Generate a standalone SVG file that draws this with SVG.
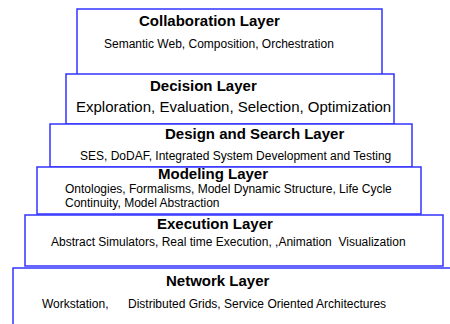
<svg xmlns="http://www.w3.org/2000/svg" width="450" height="324" viewBox="0 0 450 324">
<style>
.box{fill:#ffffff;stroke:#3333ff;stroke-width:1.5}
.t{font-family:"Liberation Sans",Arial,sans-serif;font-weight:bold;font-size:15px;fill:#000}
.s{font-family:"Liberation Sans",Arial,sans-serif;font-size:12px;fill:#000}
.m{font-family:"Liberation Sans",Arial,sans-serif;font-size:15px;fill:#000}
</style>
<rect width="450" height="324" fill="#ffffff"/>
<g id="collaboration">
<rect class="box" x="77" y="9" width="305" height="66"/>
<text class="t" x="139" y="25.5">Collaboration Layer</text>
<text class="s" x="104" y="48">Semantic Web, Composition, Orchestration</text>
</g>
<g id="decision">
<rect class="box" x="66" y="74" width="328" height="50"/>
<text class="t" x="150" y="91">Decision Layer</text>
<text class="m" x="76" y="112">Exploration, Evaluation, Selection, Optimization</text>
</g>
<g id="design">
<rect class="box" x="50" y="124" width="362" height="43"/>
<text class="t" x="165" y="139">Design and Search Layer</text>
<text class="s" x="80" y="160">SES, DoDAF, Integrated System Development and Testing</text>
</g>
<g id="modeling">
<rect class="box" x="37" y="167" width="384" height="47"/>
<text class="t" x="158" y="179">Modeling Layer</text>
<text class="s" x="65" y="193.2">Ontologies, Formalisms, Model Dynamic Structure, Life Cycle</text>
<text class="s" x="65" y="206.8">Continuity, Model Abstraction</text>
</g>
<g id="execution">
<rect class="box" x="25" y="215" width="418" height="51"/>
<text class="t" x="157" y="229">Execution Layer</text>
<text class="s" x="51" y="246" xml:space="preserve">Abstract Simulators, Real time Execution, ,Animation  Visualization</text>
</g>
<g id="network">
<rect class="box" x="13" y="268" width="450" height="70"/>
<text class="t" x="166" y="286">Network Layer</text>
<text class="s" y="308"><tspan x="42">Workstation,</tspan><tspan x="128">Distributed Grids, Service Oriented Architectures</tspan></text>
</g>
<g id="connectors"/>
</svg>
